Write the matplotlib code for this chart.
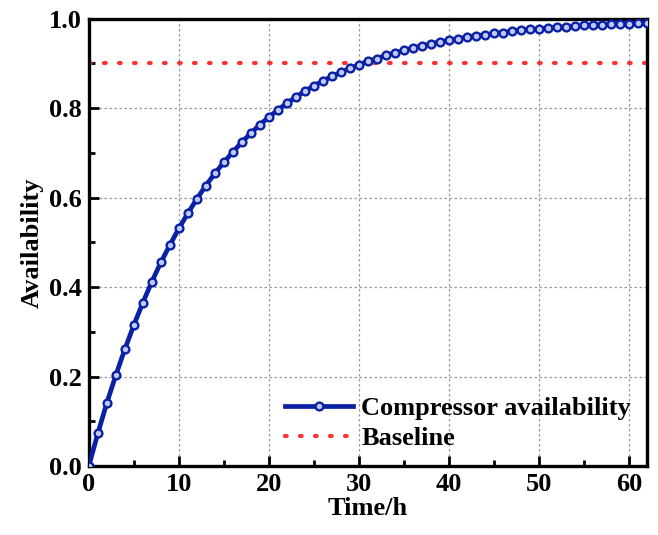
import matplotlib.pyplot as plt
from matplotlib.ticker import MultipleLocator

plt.rcParams['font.family'] = ['Liberation Serif', 'DejaVu Serif']
plt.rcParams['font.weight'] = 'bold'

# hourly availability of the compressor
time_h = list(range(0, 63))
availability = [
    0.000, 0.073, 0.141, 0.203, 0.261, 0.315, 0.365, 0.412, 0.455, 0.494,
    0.531, 0.565, 0.597, 0.627, 0.654, 0.679, 0.702, 0.724, 0.744, 0.763,
    0.780, 0.796, 0.811, 0.825, 0.838, 0.850, 0.861, 0.871, 0.880, 0.889,
    0.897, 0.905, 0.911, 0.918, 0.924, 0.929, 0.935, 0.939, 0.944, 0.948,
    0.952, 0.955, 0.959, 0.962, 0.964, 0.967, 0.969, 0.972, 0.974, 0.976,
    0.977, 0.979, 0.981, 0.982, 0.983, 0.985, 0.986, 0.987, 0.988, 0.989,
    0.989, 0.990, 0.991,
]
baseline = 0.9

fig = plt.figure(figsize=(6.58, 5.35), dpi=100)
ax = fig.add_axes([0.135, 0.129, 0.848, 0.836])

ax.plot(time_h, availability, color='#0a20a5', lw=3.4, marker='o', ms=5.6,
        mfc='#c0c8f5', mec='#0a20a5', mew=1.7, label='Compressor availability', zorder=3)
ax.axhline(baseline, color='#ff3030', lw=3.0, ls=(0, (0.4, 3.2)), dash_capstyle='round',
           label='Baseline', zorder=2)

ax.set_xlim(0, 62)
ax.set_ylim(0, 1.0)
ax.xaxis.set_major_locator(MultipleLocator(10))
ax.xaxis.set_minor_locator(MultipleLocator(5))
ax.yaxis.set_major_locator(MultipleLocator(0.2))
ax.yaxis.set_minor_locator(MultipleLocator(0.1))
ax.yaxis.set_major_formatter(plt.FuncFormatter(lambda v, p: f'{v:.1f}'))

ax.tick_params(which='both', direction='in', top=False, right=False, width=2)
ax.tick_params(which='major', length=7, labelsize=19, pad=5)
ax.tick_params(which='minor', length=4)
for s in ax.spines.values():
    s.set_linewidth(2.4)

ax.grid(True, which='major', color='#999999', ls=(0, (2, 2)), lw=0.9)

ax.set_xlabel('Time/h', fontsize=19, fontweight='bold', labelpad=1)
ax.set_ylabel('Availability', fontsize=19, fontweight='bold', labelpad=4)

ax.legend(loc='lower right', fontsize=19, frameon=False, handlelength=2.6,
          borderaxespad=0.2, handletextpad=0.3, labelspacing=0.25)

fig.savefig('out.png', dpi=100)
